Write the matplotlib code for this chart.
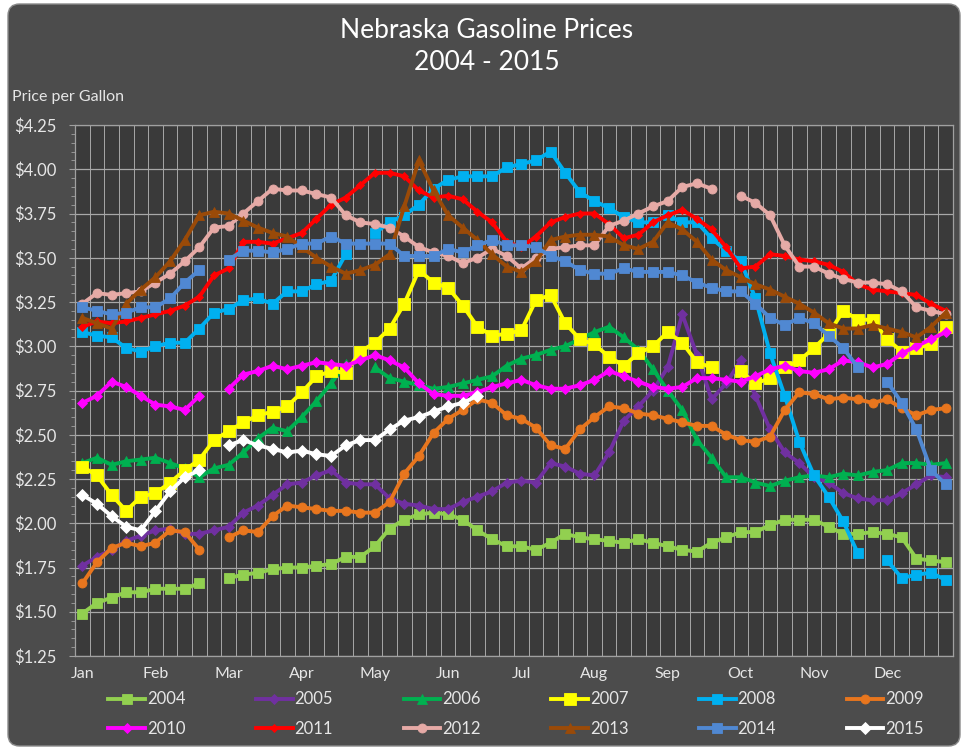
import numpy as np
import matplotlib
matplotlib.use('Agg')
import matplotlib.pyplot as plt
from matplotlib.patches import FancyBboxPatch

nan = np.nan

months = ['Jan', 'Feb', 'Mar', 'Apr', 'May', 'Jun',
          'Jul', 'Aug', 'Sep', 'Oct', 'Nov', 'Dec']
years = ['2004', '2005', '2006', '2007', '2008', '2009',
         '2010', '2011', '2012', '2013', '2014', '2015']

# weekly prices, 5 slots per month (blank slot = no 5th week)
p2004 = [1.49, 1.55, 1.58, 1.61, 1.61, 1.63, 1.63, 1.63, 1.66, nan,
         1.69, 1.71, 1.72, 1.74, 1.75, 1.75, 1.76, 1.77, 1.81, 1.81,
         1.87, 1.97, 2.02, 2.05, 2.06, 2.05, 2.02, 1.96, 1.91, 1.87,
         1.87, 1.85, 1.89, 1.94, 1.92, 1.91, 1.90, 1.89, 1.91, 1.89,
         1.87, 1.85, 1.84, 1.89, 1.92, 1.95, 1.95, 1.99, 2.02, 2.02,
         2.02, 1.98, 1.94, 1.94, 1.95, 1.94, 1.92, 1.80, 1.79, 1.78]
p2005 = [1.76, 1.81, 1.85, 1.90, 1.93, 1.96, 1.97, 1.94, 1.94, 1.96,
         1.98, 2.06, 2.10, 2.16, 2.22, 2.23, 2.27, 2.30, 2.23, 2.22,
         2.22, 2.14, 2.11, 2.10, 2.08, 2.08, 2.12, 2.15, 2.18, 2.23,
         2.24, 2.23, 2.34, 2.32, 2.28, 2.27, 2.40, 2.58, 2.66, 2.75,
         2.88, 3.18, 2.95, 2.70, 2.79, 2.92, 2.72, 2.53, 2.40, 2.34,
         2.26, 2.23, 2.17, 2.14, 2.13, 2.13, 2.17, 2.22, 2.27, 2.26]
p2006 = [2.34, 2.37, 2.33, 2.35, 2.36, 2.37, 2.34, 2.31, 2.26, 2.31,
         2.33, 2.40, 2.48, 2.54, 2.52, 2.60, 2.69, 2.79, 2.90, nan,
         2.88, 2.82, 2.80, 2.78, 2.76, 2.77, 2.79, 2.81, 2.83, 2.89,
         2.93, 2.95, 2.98, 3.00, 3.04, 3.08, 3.11, 3.05, 2.98, 2.87,
         2.75, 2.64, 2.47, 2.37, 2.26, 2.26, 2.23, 2.21, 2.24, 2.26,
         2.27, 2.26, 2.28, 2.27, 2.29, 2.30, 2.34, 2.34, 2.33, 2.34]
p2007 = [2.32, 2.27, 2.16, 2.07, 2.15, 2.17, 2.23, 2.30, 2.36, 2.47,
         2.52, 2.57, 2.61, 2.63, 2.66, 2.74, 2.83, 2.86, 2.85, 2.97,
         3.02, 3.10, 3.24, 3.43, 3.36, 3.33, 3.23, 3.11, 3.06, 3.07,
         3.09, 3.26, 3.29, 3.13, 3.04, 3.01, 2.94, 2.89, 2.96, 3.00,
         3.08, 3.02, 2.91, 2.88, nan, 2.86, 2.79, 2.82, 2.88, 2.92,
         2.99, 3.07, 3.20, 3.15, 3.15, 3.04, 2.97, 2.99, 3.01, 3.11]
p2008 = [3.08, 3.06, 3.05, 2.99, 2.97, 3.00, 3.02, 3.02, 3.10, 3.19,
         3.21, 3.26, 3.27, 3.24, 3.31, 3.31, 3.35, 3.37, 3.52, nan,
         3.64, 3.70, 3.74, 3.80, 3.89, 3.94, 3.96, 3.96, 3.96, 4.01,
         4.03, 4.05, 4.10, 3.98, 3.87, 3.82, 3.78, 3.73, 3.70, 3.70,
         3.74, 3.70, 3.70, 3.61, 3.54, 3.48, 3.27, 2.96, 2.72, 2.46,
         2.27, 2.15, 2.01, 1.83, nan, 1.79, 1.69, 1.71, 1.72, 1.68]
p2009 = [1.66, 1.78, 1.86, 1.89, 1.87, 1.89, 1.96, 1.95, 1.85, nan,
         1.92, 1.96, 1.95, 2.04, 2.10, 2.09, 2.08, 2.07, 2.07, 2.06,
         2.06, 2.12, 2.28, 2.38, 2.51, 2.59, 2.64, 2.70, 2.68, 2.61,
         2.59, 2.54, 2.44, 2.42, 2.53, 2.60, 2.66, 2.65, 2.62, 2.61,
         2.59, 2.57, 2.55, 2.55, 2.50, 2.47, 2.46, 2.49, 2.64, 2.74,
         2.73, 2.70, 2.71, 2.70, 2.68, 2.70, 2.65, 2.61, 2.64, 2.65]
p2010 = [2.68, 2.72, 2.80, 2.77, 2.72, 2.67, 2.66, 2.64, 2.72, nan,
         2.76, 2.84, 2.86, 2.89, 2.87, 2.89, 2.91, 2.90, 2.89, 2.92,
         2.95, 2.92, 2.88, 2.79, 2.73, 2.72, 2.72, 2.74, 2.77, 2.79,
         2.81, 2.78, 2.76, 2.76, 2.78, 2.81, 2.86, 2.83, 2.80, 2.77,
         2.76, 2.77, 2.82, 2.82, 2.81, 2.80, 2.83, 2.87, 2.89, 2.86,
         2.85, 2.87, 2.92, 2.91, 2.88, 2.90, 2.96, 3.00, 3.04, 3.08]
p2011 = [3.11, 3.14, 3.13, 3.14, 3.16, 3.18, 3.20, 3.23, 3.28, 3.40,
         3.44, 3.59, 3.59, 3.58, 3.61, 3.64, 3.72, 3.80, 3.84, 3.91,
         3.98, 3.98, 3.96, 3.88, 3.84, 3.85, 3.83, 3.76, 3.70, 3.59,
         3.56, 3.62, 3.70, 3.73, 3.75, 3.75, 3.69, 3.61, 3.63, 3.70,
         3.74, 3.77, 3.72, 3.66, 3.56, 3.44, 3.45, 3.52, 3.51, 3.49,
         3.48, 3.46, 3.42, 3.35, 3.32, 3.31, 3.30, 3.29, 3.24, 3.20]
p2012 = [3.24, 3.30, 3.29, 3.30, 3.31, 3.36, 3.41, 3.48, 3.56, 3.67,
         3.68, 3.75, 3.82, 3.89, 3.88, 3.88, 3.86, 3.84, 3.74, 3.70,
         3.69, 3.67, 3.62, 3.56, 3.53, 3.51, 3.47, 3.50, 3.55, 3.51,
         3.44, 3.50, 3.55, 3.56, 3.57, 3.57, 3.68, 3.71, 3.75, 3.79,
         3.82, 3.90, 3.92, 3.89, nan, 3.85, 3.81, 3.74, 3.57, 3.45,
         3.45, 3.41, 3.38, 3.36, 3.36, 3.35, 3.31, 3.22, 3.20, 3.18]
p2013 = [3.16, 3.13, 3.10, 3.24, 3.32, 3.39, 3.48, 3.60, 3.74, 3.76,
         3.75, 3.71, 3.67, 3.64, 3.62, 3.56, 3.50, 3.45, 3.41, 3.43,
         3.46, 3.52, 3.79, 4.05, 3.88, 3.74, 3.67, 3.60, 3.52, 3.45,
         3.42, 3.48, 3.60, 3.62, 3.63, 3.63, 3.62, 3.57, 3.55, 3.59,
         3.70, 3.66, 3.59, 3.49, 3.43, 3.39, 3.35, 3.32, 3.28, 3.24,
         3.19, 3.13, 3.10, 3.10, 3.12, 3.10, 3.08, 3.05, 3.11, 3.19]
p2014 = [3.22, 3.20, 3.18, 3.19, 3.22, 3.22, 3.27, 3.36, 3.43, nan,
         3.49, 3.54, 3.54, 3.53, 3.55, 3.58, 3.58, 3.62, 3.58, 3.58,
         3.58, 3.58, 3.51, 3.51, 3.51, 3.55, 3.53, 3.57, 3.60, 3.57,
         3.57, 3.56, 3.51, 3.48, 3.43, 3.41, 3.41, 3.44, 3.42, 3.42,
         3.42, 3.40, 3.36, 3.33, 3.31, 3.31, 3.24, 3.16, 3.12, 3.16,
         3.13, 3.06, 2.99, 2.88, nan, 2.80, 2.68, 2.53, 2.30, 2.22]
p2015 = [2.16, 2.11, 2.04, 1.98, 1.96, 2.07, 2.18, 2.26, 2.30, nan,
         2.44, 2.47, 2.44, 2.42, 2.40, 2.41, 2.39, 2.38, 2.44, 2.47,
         2.47, 2.53, 2.58, 2.60, 2.63, 2.66, 2.68, 2.72] + [nan] * 32

series = [p2004, p2005, p2006, p2007, p2008, p2009,
          p2010, p2011, p2012, p2013, p2014, p2015]
colors = ['#92d050', '#7030a0', '#00b050', '#ffff00', '#00b0f0', '#e8761e',
          '#ff00ff', '#ff0000', '#e6aaa6', '#9a4a08', '#5088d2', '#ffffff']
markers = ['s', 'D', '^', 's', 's', 'o', 'D', 'D', 'o', '^', 's', 'D']
msizes = [6.5, 5, 6.5, 8, 6.5, 6.5, 5, 4.5, 6.5, 6.5, 6.5, 6.5]

plt.rcParams['font.family'] = ['Lato', 'DejaVu Sans']
txt = '#e6e6e6'

fig = plt.figure(figsize=(9.62, 7.49), dpi=100, facecolor='white')
frame = FancyBboxPatch((8 / 962, 3 / 749), 952 / 962, 742 / 749,
                       boxstyle='round,pad=0,rounding_size=0.012',
                       mutation_aspect=962 / 749,
                       transform=fig.transFigure, facecolor='#4c4c4c',
                       edgecolor='#8a8a8a', lw=1.0, zorder=-5)
fig.add_artist(frame)

ax = fig.add_axes([75 / 962, 1 - 656 / 749, 878 / 962, 531 / 749])
ax.set_facecolor('#3a3a3a')

x = np.arange(60)
lines = []
for k, vals in enumerate(series):
    c = colors[k]
    ln, = ax.plot(x, vals, color=c, lw=2.8, marker=markers[k],
                  ms=msizes[k], mfc=c, mec=c, mew=0.6,
                  label=years[k], zorder=3 + k)
    lines.append(ln)

ax.set_xlim(-0.5, 59.5)
ax.set_ylim(1.25, 4.25)
ax.set_xticks(np.arange(0, 60, 5))
ax.set_xticklabels(months)
ax.set_xticks(np.arange(-0.5, 60, 1), minor=True)
ax.set_yticks(np.arange(1.25, 4.26, 0.25))
ax.set_yticklabels(['$%.2f' % v for v in np.arange(1.25, 4.26, 0.25)])
ax.set_yticks(np.arange(1.25, 4.26, 0.05), minor=True)

ax.grid(which='major', axis='y', color='#a8a8a8', lw=0.9)
ax.grid(which='minor', axis='x', color='#a8a8a8', lw=0.7)
ax.set_axisbelow(True)

ax.tick_params(axis='x', which='both', length=0, pad=8, labelsize=11.5,
               labelcolor=txt)
ax.tick_params(axis='y', which='major', length=4, color='#a0a0a0', pad=9,
               labelsize=12, labelcolor=txt)
ax.tick_params(axis='y', which='minor', length=3, color='#a0a0a0')
for s in ax.spines.values():
    s.set_color('#a0a0a0')
    s.set_linewidth(0.9)

fig.text(487 / 962, 1 - 30 / 749, 'Nebraska Gasoline Prices', ha='center',
         va='center', fontsize=19, color='white')
fig.text(487 / 962, 1 - 62 / 749, '2004 - 2015', ha='center',
         va='center', fontsize=19, color='white')
fig.text(12 / 962, 1 - 97 / 749, 'Price per Gallon', ha='left',
         va='center', fontsize=11.5, color=txt)

# legend filled row by row: 2004-2009 on top, 2010-2015 below
order = []
for c in range(6):
    order += [c, c + 6]
leg = fig.legend([lines[i] for i in order], [years[i] for i in order],
                 ncol=6, loc='center', bbox_to_anchor=(516 / 962, 1 - 714 / 749),
                 bbox_transform=fig.transFigure, frameon=False, fontsize=12,
                 handlelength=2.2, handletextpad=0.1, columnspacing=4.25,
                 labelspacing=0.8, numpoints=1, borderpad=0)
for t in leg.get_texts():
    t.set_color(txt)

plt.savefig('out.png', dpi=100, facecolor='white')
